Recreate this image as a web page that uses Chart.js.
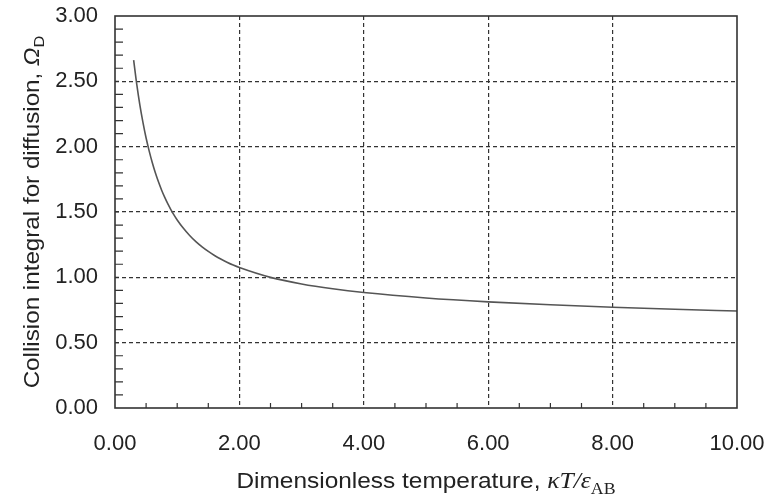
<!DOCTYPE html>
<html>
<head>
<meta charset="utf-8">
<script src="https://cdn.jsdelivr.net/npm/chart.js@4"></script>
<style>
  html, body { margin: 0; padding: 0; background: #fff; }
  #wrap { width: 769px; height: 504px; }
</style>
</head>
<body>
<div id="wrap"><canvas id="omegaChart"></canvas></div>
<script>
// reduced temperature kT/eps_AB and collision integral Omega_D
const tempStar = [0.30, 0.35, 0.40, 0.45, 0.50, 0.55, 0.60, 0.65, 0.70, 0.75, 0.80, 0.85, 0.90, 0.95,
  1.00, 1.10, 1.20, 1.30, 1.40, 1.50, 1.60, 1.70, 1.80, 1.90, 2.00, 2.50, 3.00, 3.50, 4.00,
  5.00, 6.00, 7.00, 8.00, 9.00, 10.0];
const omegaD = [2.662, 2.476, 2.318, 2.184, 2.066, 1.966, 1.877, 1.798, 1.729, 1.667, 1.612, 1.562, 1.517, 1.476,
  1.439, 1.375, 1.320, 1.273, 1.233, 1.198, 1.167, 1.140, 1.116, 1.094, 1.075, 0.9996, 0.9490, 0.9120, 0.8836,
  0.8422, 0.8124, 0.7896, 0.7712, 0.7556, 0.7424];
const xTicks = [0, 2, 4, 6, 8, 10];
const yTicks = [0, 0.5, 1.0, 1.5, 2.0, 2.5, 3.0];

const font = '"Liberation Sans", Arial, sans-serif';
const serif = '"Liberation Serif", "Times New Roman", serif';
const ink = '#222';

const near = (v, list) => list.some(t => Math.abs(v - t) < 1e-6);

// draws a run of text pieces with different fonts, centred on 0, stretched a bit wide
function drawParts(ctx, parts, stretch) {
  ctx.scale(stretch, 1);
  let w = 0;
  parts.forEach(p => { ctx.font = p.f; w += ctx.measureText(p.t).width; });
  let x = -w / 2;
  parts.forEach(p => {
    ctx.font = p.f;
    ctx.fillText(p.t, x, p.dy);
    x += ctx.measureText(p.t).width;
  });
}

const framePlugin = {
  id: 'frame',
  afterDraw(chart) {
    const { ctx, chartArea: a, scales: { x, y } } = chart;
    ctx.save();
    ctx.strokeStyle = '#333';
    ctx.lineWidth = 1.6;
    ctx.strokeRect(a.left, a.top, a.right - a.left, a.bottom - a.top);
    // inward minor ticks
    ctx.lineWidth = 1.2;
    ctx.beginPath();
    for (let i = 1; i < 20; i++) {
      const v = i * 0.5;
      if (near(v, xTicks)) continue;
      const px = x.getPixelForValue(v);
      ctx.moveTo(px, a.bottom);
      ctx.lineTo(px, a.bottom - 5);
    }
    for (let i = 1; i < 30; i++) {
      const v = i / 10;
      const px = y.getPixelForValue(v);
      ctx.moveTo(a.left, px);
      ctx.lineTo(a.left + (near(v, yTicks) ? 4 : 8), px);
    }
    ctx.stroke();

    ctx.fillStyle = ink;
    ctx.textBaseline = 'alphabetic';
    ctx.textAlign = 'left';

    ctx.save();
    ctx.translate((a.left + a.right) / 2, 488);
    drawParts(ctx, [
      { t: 'Dimensionless temperature, ', f: '22px ' + font, dy: 0 },
      { t: 'κT/ε', f: 'italic 23px ' + serif, dy: 0 },
      { t: 'AB', f: '16px ' + serif, dy: 6 }
    ], 1.11);
    ctx.restore();

    ctx.translate(39, (a.top + a.bottom) / 2);
    ctx.rotate(-Math.PI / 2);
    drawParts(ctx, [
      { t: 'Collision integral for diffusion, ', f: '22px ' + font, dy: 0 },
      { t: 'Ω', f: 'italic 22px ' + font, dy: 0 },
      { t: 'D', f: '15px ' + font, dy: 5 }
    ], 1.1);
    ctx.restore();
  }
};

new Chart(document.getElementById('omegaChart'), {
  type: 'scatter',
  data: {
    datasets: [{
      data: tempStar.map((t, i) => ({ x: t, y: omegaD[i] })),
      showLine: true,
      borderColor: '#555',
      borderWidth: 1.6,
      pointRadius: 0,
      tension: 0.4,
      cubicInterpolationMode: 'monotone',
      clip: false
    }]
  },
  options: {
    responsive: true,
    maintainAspectRatio: false,
    animation: false,
    layout: { padding: { left: 0, right: 32, top: 16, bottom: 0 } },
    plugins: { legend: { display: false }, tooltip: { enabled: false } },
    scales: {
      x: {
        type: 'linear',
        min: 0, max: 10,
        afterFit(s) { s.height = 96; s.paddingLeft = 0; s.paddingRight = 0; },
        afterBuildTicks(s) { s.ticks = xTicks.map(v => ({ value: v })); },
        ticks: {
          autoSkip: false, maxRotation: 0, padding: 23,
          color: ink, font: { family: font, size: 22 },
          callback: v => v.toFixed(2)
        },
        grid: {
          drawTicks: false,
          color: c => (c.tick && c.tick.value > 0 && c.tick.value < 10) ? '#333' : 'rgba(0,0,0,0)',
          lineWidth: 1.2
        },
        border: { display: false, dash: [4, 3] }
      },
      y: {
        type: 'linear',
        min: 0, max: 3,
        afterFit(s) { s.width = 115; s.paddingTop = 0; s.paddingBottom = 0; },
        afterBuildTicks(s) { s.ticks = yTicks.map(v => ({ value: v })); },
        ticks: {
          autoSkip: false, padding: 17,
          color: ink, font: { family: font, size: 22 },
          callback: v => v.toFixed(2)
        },
        grid: {
          drawTicks: false,
          color: c => (c.tick && c.tick.value > 0 && c.tick.value < 3) ? '#333' : 'rgba(0,0,0,0)',
          lineWidth: 1.2
        },
        border: { display: false, dash: [4, 3] }
      }
    }
  },
  plugins: [framePlugin]
});
</script>
</body>
</html>
